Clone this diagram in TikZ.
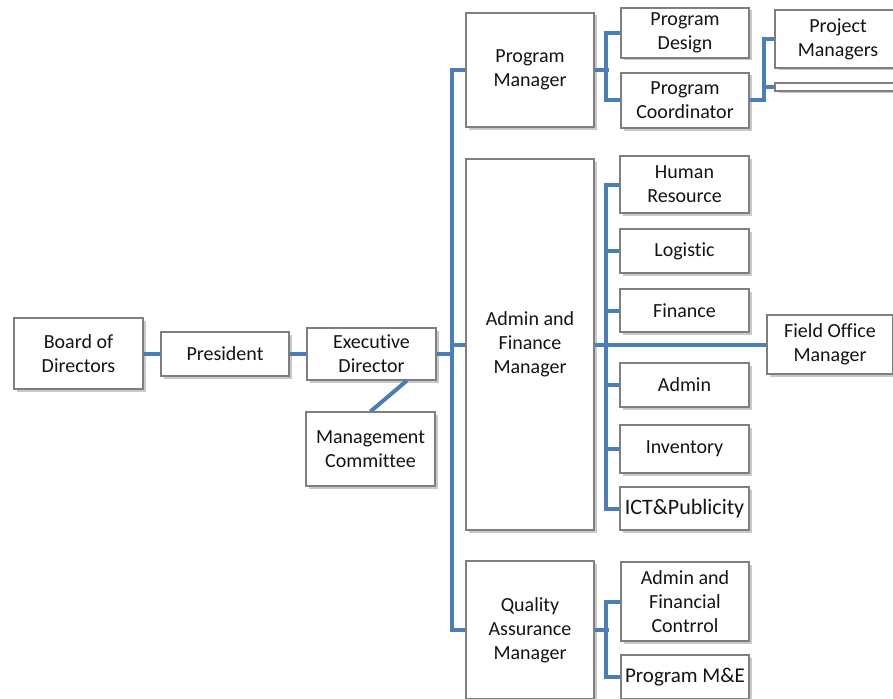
\documentclass[tikz,border=0pt]{standalone}
\usepackage{fontspec}
\setmainfont{Carlito}[Ligatures={NoCommon,TeX}]
\usetikzlibrary{shadows}
\definecolor{linkblue}{HTML}{4A7EBB}
\definecolor{boxgray}{HTML}{7F7F7F}
\definecolor{txt}{HTML}{141414}
\tikzset{
  orgbox/.style={draw=boxgray, line width=1.1pt, fill=white, align=center,
    inner sep=0pt, text=txt, font=\fontsize{20}{24}\selectfont,
    drop shadow={shadow xshift=2.5pt, shadow yshift=-2.5pt, opacity=0.35, fill=black!60}},
  link/.style={draw=linkblue, line width=4pt}
}
\begin{document}
\begin{tikzpicture}[x=1pt,y=-1pt]
\clip (0,0) rectangle (893,698);
\fill[white] (0,0) rectangle (893,698);
% nodes
\node[orgbox, minimum width=129, minimum height=71] (bod) at (78.5,353.5) {Board of\\Directors};
\node[orgbox, minimum width=128, minimum height=44] (pres) at (225,354) {President};
\node[orgbox, minimum width=129, minimum height=52] (ed) at (371.5,354) {Executive\\Director};
\node[orgbox, minimum width=129, minimum height=74] (mc) at (370.5,449) {Management\\Committee};
\node[orgbox, minimum width=128, minimum height=114] (pm) at (530,70) {Program\\Manager};
\node[orgbox, minimum width=128, minimum height=371] (afm) at (530,344.5) {Admin and\\Finance\\Manager};
\node[orgbox, minimum width=128, minimum height=138] (qam) at (530,630) {Quality\\Assurance\\Manager};
\node[orgbox, minimum width=128, minimum height=50] (pd) at (685,33) {Program\\Design};
\node[orgbox, minimum width=128, minimum height=55] (pc) at (685,100.5) {Program\\Coordinator};
\node[orgbox, minimum width=126, minimum height=58] (prm) at (838,39) {Project\\Managers};
\node[orgbox, minimum width=126, minimum height=8] (thin) at (838,87) {};
\node[orgbox, minimum width=129, minimum height=57] (hr) at (684.5,184.5) {Human\\Resource};
\node[orgbox, minimum width=129, minimum height=44] (log) at (684.5,251) {Logistic};
\node[orgbox, minimum width=129, minimum height=43] (fin) at (684.5,310.5) {Finance};
\node[orgbox, minimum width=129, minimum height=44] (adm) at (684.5,385) {Admin};
\node[orgbox, minimum width=129, minimum height=48] (inv) at (684.5,449) {Inventory};
\node[orgbox, minimum width=129, minimum height=43, font=\fontsize{22}{26}\selectfont] (ict) at (684.5,508.5) {ICT\&Publicity};
\node[orgbox, minimum width=126, minimum height=59] (fom) at (830,344.5) {Field Office\\Manager};
\node[orgbox, minimum width=128, minimum height=79] (afc) at (685,601.5) {Admin and\\Financial\\Contrrol};
\node[orgbox, minimum width=128, minimum height=44, font=\fontsize{21}{25}\selectfont] (pme) at (685,677) {Program M\&E};
% connectors
\draw[link] (bod.east) -- (bod.east -| pres.west);
\draw[link] (pres.east) -- (pres.east -| ed.west);
\draw[link] (ed.east) -- ++(16,0);
\draw[link] (pm.west) -- ++(-13,0) |- (qam.west);
\draw[link] (afm.west) -- ++(-14,0);
\draw[link] ([xshift=35.5pt]ed.south) -- (mc.north);
\draw[link] (afm.east) -- (fom.west);
\draw[link] (hr.west) -- ++(-13,0) |- (ict.west);
\draw[link] (log.west) -- ++(-13,0);
\draw[link] (fin.west) -- ++(-13,0);
\draw[link] (adm.west) -- ++(-13,0);
\draw[link] (inv.west) -- ++(-13,0);
\draw[link] (pm.east) -- ++(14,0);
\draw[link] (pd.west) -- ++(-14,0) |- (pc.west);
\draw[link] (pc.east) -- ++(14,0) |- (prm.west);
\draw[link] (thin.west) -- ++(-12,0);
\draw[link] (qam.east) -- ++(14,0);
\draw[link] (afc.west) -- ++(-14,0) |- (pme.west);
\end{tikzpicture}
\end{document}
